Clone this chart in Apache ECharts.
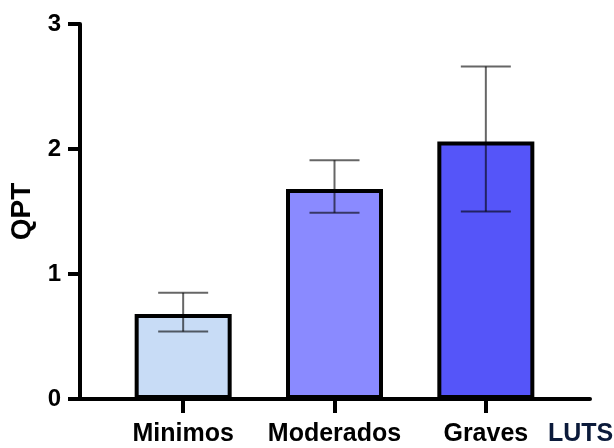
<!DOCTYPE html>
<html><head><meta charset="utf-8">
<script src="https://cdn.jsdelivr.net/npm/echarts@6/dist/echarts.min.js"></script>
<style>html,body{margin:0;padding:0;background:#fff}#c{width:614px;height:448px}</style>
</head><body><div id="c"></div>
<script>
const categories = ['Minimos', 'Moderados', 'Graves'];
const means = [0.68, 1.68, 2.06];
const upper = [0.85, 1.91, 2.66];
const lower = [0.54, 1.49, 1.50];
const barColors = ['#c8dcf6', '#8a8aff', '#5555f9'];
const yTicks = [0, 1, 2, 3];
const yName = 'QPT';
const xName = 'LUTS';

const font = 'Liberation Sans, Arial, sans-serif';
const chart = echarts.init(document.getElementById('c'), null, {renderer: 'canvas'});
const gTop = 24, gBottom = 49;
chart.setOption({
  animation: false,
  backgroundColor: '#fff',
  title: {text: xName, left: 548, top: 422, padding: 0,
    textStyle: {fontFamily: font, fontWeight: 'bold', fontSize: 25, color: '#0b1a3a'}},
  grid: [
    {left: 80, right: 24, top: gTop, bottom: gBottom},
    {left: 107.5, right: 52.5, top: gTop, bottom: gBottom}
  ],
  xAxis: [
    {gridIndex: 0, type: 'value', min: 0, max: 1, axisLine: {show: true, onZero: false, lineStyle: {color: '#000', width: 4}},
     axisTick: {show: false}, axisLabel: {show: false}, splitLine: {show: false}},
    {gridIndex: 1, type: 'category', data: categories, axisLine: {show: false},
     axisTick: {show: true, alignWithLabel: true, length: 14, lineStyle: {color: '#000', width: 4}},
     axisLabel: {interval: 0, margin: 23, fontFamily: font, fontWeight: 'bold', fontSize: 25, color: '#000'}}
  ],
  yAxis: [
    {gridIndex: 0, type: 'value', min: yTicks[0], max: yTicks[yTicks.length - 1], interval: 1,
     axisLine: {show: true, lineStyle: {color: '#000', width: 4}},
     axisTick: {show: true, length: 12, lineStyle: {color: '#000', width: 4}},
     axisLabel: {margin: 19, fontFamily: font, fontWeight: 'bold', fontSize: 24, color: '#000'},
     splitLine: {show: false},
     name: yName, nameLocation: 'middle', nameGap: 40, nameRotate: 90,
     nameTextStyle: {fontFamily: font, fontWeight: 'bold', fontSize: 28, color: '#000'}},
    {gridIndex: 1, type: 'value', min: yTicks[0], max: yTicks[yTicks.length - 1], interval: 1, show: false}
  ],
  series: [
    {type: 'bar', xAxisIndex: 1, yAxisIndex: 1, barWidth: 97,
     data: means.map((v, i) => ({value: v, itemStyle: {color: barColors[i]}})),
     itemStyle: {borderColor: '#000', borderWidth: 4}},
    {type: 'custom', xAxisIndex: 1, yAxisIndex: 1, z: 5,
     data: categories.map((c, i) => [i, lower[i], upper[i]]),
     renderItem: function (params, api) {
       const x = api.value(0);
       const lo = api.coord([x, api.value(1)]);
       const hi = api.coord([x, api.value(2)]);
       const hw = 25;
       const style = {stroke: 'rgba(0,0,0,0.6)', lineWidth: 2};
       return {type: 'group', children: [
         {type: 'line', shape: {x1: hi[0], y1: hi[1], x2: lo[0], y2: lo[1]}, style: style},
         {type: 'line', shape: {x1: hi[0] - hw, y1: hi[1], x2: hi[0] + hw, y2: hi[1]}, style: style},
         {type: 'line', shape: {x1: lo[0] - hw, y1: lo[1], x2: lo[0] + hw, y2: lo[1]}, style: style}
       ]};
     }}
  ]
});
</script></body></html>
